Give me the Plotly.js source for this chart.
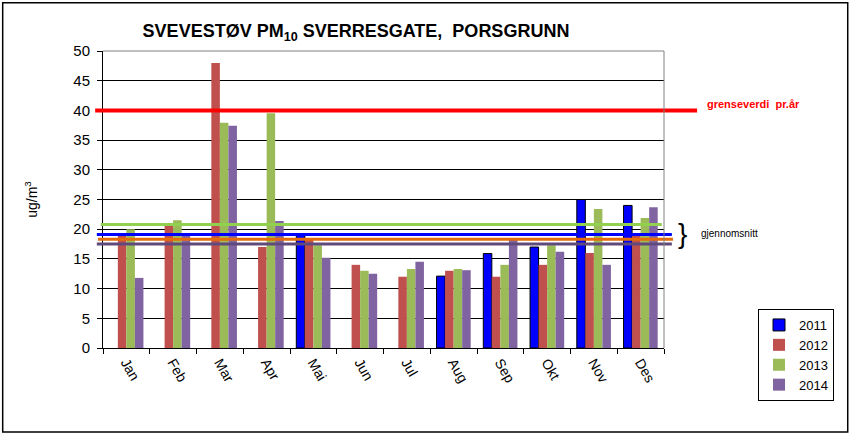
<!DOCTYPE html>
<html>
<head>
<meta charset="utf-8">
<script src="https://cdn.plot.ly/plotly-3.0.1.min.js"></script>
<style>html,body{margin:0;padding:0;background:#fff;}#chart{width:852px;height:436px;}</style>
</head>
<body>
<div id="chart"></div>
<script>
const months = ['Jan','Feb','Mar','Apr','Mai','Jun','Jul','Aug','Sep','Okt','Nov','Des'];
const years = ['2011','2012','2013','2014'];
const y2011 = [null,null,null,null,19.0,null,null,12.1,15.9,17.0,25.0,24.0];
const y2012 = [19.0,20.6,48.0,17.0,18.4,14.0,12.0,13.0,12.0,14.0,16.0,18.9];
const y2013 = [20.0,21.5,37.9,39.5,17.3,13.0,13.3,13.3,14.0,17.3,23.4,21.9];
const y2014 = [11.8,19.0,37.4,21.4,15.2,12.5,14.5,13.1,18.2,16.2,14.0,23.7];
const averages = [19.1, 18.3, 20.8, 17.5]; // gjennomsnitt 2011..2014
const limitValue = 40; // grenseverdi pr. år

const barColors = ['#0000FF','#C0504D','#9BBB59','#8064A2'];
const avgColors = ['#0000FF','#E46C0A','#92D050','#604A7B'];
const series = [y2011,y2012,y2013,y2014];

const FONT = 'Arial, "Liberation Sans", sans-serif';

const traces = series.map((vals,i)=>({
  type:'bar', name: years[i], x: months, y: vals,
  marker:{color:barColors[i], line:{color: i===0 ? '#000' : 'rgba(0,0,0,0)', width: i===0 ? 1 : 0}},
  legendgroup: 'g'+i
}));

// average lines: draw order green, blue, orange, purple
const avgSpan = [[-0.011,1.014],[-0.009,1.016],[-0.004,0.996],[-0.011,1.014]];
const order = [2,0,1,3];
const shapes = [];
order.forEach(i=>{
  shapes.push({type:'line', xref:'paper', yref:'y', x0:avgSpan[i][0], x1:avgSpan[i][1],
    y0:averages[i], y1:averages[i], line:{color:avgColors[i], width:3}, layer:'above'});
});
shapes.push({type:'line', xref:'paper', yref:'y', x0:-0.014, x1:1.059, y0:limitValue, y1:limitValue,
  line:{color:'#FF0000', width:4}, layer:'above'});
// plot area top/right grey border
shapes.push({type:'line', xref:'paper', yref:'paper', x0:0, x1:1, y0:1, y1:1, line:{color:'#808080', width:1}, layer:'above'});
shapes.push({type:'line', xref:'paper', yref:'paper', x0:1, x1:1, y0:0, y1:1, line:{color:'#808080', width:1}, layer:'above'});
// outer chart frame
shapes.push({type:'rect', xref:'paper', yref:'paper', x0:-0.1788, x1:1.3275, y0:-0.2828, y1:1.1626,
  line:{color:'#000', width:1.5}, fillcolor:'rgba(0,0,0,0)', layer:'below'});

const layout = {
  width:852, height:436,
  margin:{l:103, r:188, t:51, b:88},
  paper_bgcolor:'#fff', plot_bgcolor:'#fff',
  font:{family:FONT, color:'#000'},
  barmode:'group', bargap:0.27, bargroupgap:0,
  title:{text:'<b>SVEVESTØV PM<sub>10</sub> SVERRESGATE,  PORSGRUNN</b>', font:{family:FONT, size:18, color:'#000'},
    x:356/852, xanchor:'center', xref:'container', y:1-31/436, yanchor:'middle', yref:'container'},
  xaxis:{type:'category', tickson:'boundaries', ticks:'outside', ticklen:5, tickcolor:'#000',
    showline:true, linecolor:'#000', linewidth:1, showgrid:false, tickangle:60,
    tickfont:{family:FONT, size:14, color:'#000'}, fixedrange:true},
  yaxis:{range:[0,50], dtick:5, tick0:0, ticks:'outside', ticklen:5, tickcolor:'#000',
    showline:true, linecolor:'#000', linewidth:1, showgrid:true, gridcolor:'#000', gridwidth:1,
    zeroline:false, ticklabelstandoff:4,
    tickfont:{family:FONT, size:15, color:'#000'},
    title:{text:'ug/m<sup>3</sup>', font:{family:FONT, size:14, color:'#000'}, standoff:32}},
  showlegend:true,
  legend:{x:(758-103)/561, xanchor:'left', y:(348-309)/297, yanchor:'top', yref:'paper',
    bordercolor:'#000', borderwidth:1, bgcolor:'#fff', font:{family:FONT, size:13, color:'#000'},
    traceorder:'normal', tracegroupgap:4, itemwidth:30},
  shapes: shapes,
  annotations:[
    {xref:'paper', yref:'paper', x:(705-103)/561, y:(348-104)/297, xanchor:'left', yanchor:'middle',
      text:'<b>grenseverdi  pr.år</b>', showarrow:false, font:{family:FONT, size:11, color:'#FF0000'}},
    {xref:'paper', yref:'paper', x:(699-103)/561, y:(348-233)/297, xanchor:'left', yanchor:'middle',
      text:'gjennomsnitt', showarrow:false, font:{family:FONT, size:10, color:'#000'}},
    {xref:'paper', yref:'paper', x:(682-103)/561, y:(348-233)/297, xanchor:'center', yanchor:'middle',
      text:'}', showarrow:false, font:{family:FONT, size:28, color:'#000'}}
  ]
};

Plotly.newPlot('chart', traces, layout, {displayModeBar:false, staticPlot:true});
</script>
</body>
</html>
